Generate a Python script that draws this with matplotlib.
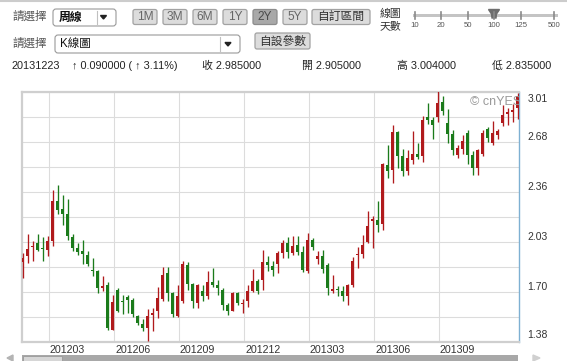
import matplotlib
matplotlib.use('Agg')
import matplotlib.pyplot as plt
from matplotlib.patches import FancyBboxPatch, Rectangle, Polygon
import numpy as np

plt.rcParams['font.family'] = ['Liberation Sans', 'Noto Sans CJK TC', 'DejaVu Sans']

W, H = 567, 361

# weekly K-line, 100 weeks ending 20131223
opens = [1.896, 1.936, 1.994, 2.022, 1.985, 1.979, 2.034, 2.295, 2.247, 2.212,
         2.062, 1.990, 1.968, 1.942, 1.843, 1.841, 1.728, 1.750, 1.455, 1.715,
         1.643, 1.667, 1.652, 1.547, 1.493, 1.467, 1.550, 1.580, 1.656, 1.826,
         1.696, 1.543, 1.641, 1.881, 1.754, 1.630, 1.707, 1.674, 1.765, 1.750,
         1.717, 1.619, 1.580, 1.696, 1.624, 1.641, 1.707, 1.772, 1.782, 1.898,
         1.874, 1.885, 1.957, 2.022, 1.957, 2.007, 1.964, 1.841, 2.044, 1.918,
         1.939, 1.881, 1.707, 1.719, 1.711, 1.674, 1.750, 1.946, 1.952, 2.029,
         2.164, 2.175, 2.147, 2.535, 2.502, 2.748, 2.589, 2.491, 2.567, 2.605,
         2.589, 2.845, 2.829, 2.845, 2.945, 2.807, 2.735, 2.600, 2.639, 2.742,
         2.596, 2.513, 2.605, 2.770, 2.676, 2.727, 2.807, 2.866, 2.879, 2.905]
highs = [1.957, 2.083, 2.038, 2.083, 2.062, 2.066, 2.367, 2.400, 2.334, 2.310,
         2.083, 2.022, 2.040, 1.968, 1.924, 1.848, 1.805, 1.765, 1.684, 1.728,
         1.680, 1.680, 1.663, 1.554, 1.525, 1.593, 1.597, 1.733, 1.864, 1.866,
         1.702, 1.746, 1.903, 1.898, 1.761, 1.754, 1.750, 1.841, 1.859, 1.779,
         1.728, 1.630, 1.702, 1.702, 1.656, 1.746, 1.852, 1.789, 1.977, 1.936,
         1.903, 1.968, 2.044, 2.062, 2.066, 2.066, 2.001, 2.088, 2.055, 1.972,
         1.975, 1.892, 1.815, 1.743, 1.739, 1.754, 1.929, 1.994, 2.073, 2.234,
         2.197, 2.295, 2.546, 2.665, 2.796, 2.757, 2.639, 2.633, 2.753, 2.676,
         2.851, 2.938, 2.845, 3.023, 2.982, 2.901, 2.763, 2.661, 2.727, 2.763,
         2.622, 2.639, 2.763, 2.779, 2.818, 2.770, 2.927, 2.905, 2.932, 3.004]
lows = [1.794, 1.892, 1.907, 1.968, 1.903, 1.936, 2.001, 2.212, 2.142, 2.044,
        1.968, 1.946, 1.887, 1.870, 1.805, 1.696, 1.707, 1.452, 1.452, 1.571,
        1.558, 1.565, 1.537, 1.488, 1.445, 1.380, 1.445, 1.532, 1.641, 1.641,
        1.537, 1.537, 1.630, 1.717, 1.597, 1.597, 1.641, 1.658, 1.737, 1.680,
        1.586, 1.554, 1.576, 1.619, 1.565, 1.602, 1.700, 1.689, 1.717, 1.841,
        1.805, 1.826, 1.924, 1.924, 1.946, 1.946, 1.833, 1.826, 1.979, 1.885,
        1.826, 1.680, 1.696, 1.674, 1.641, 1.615, 1.735, 1.859, 1.924, 2.022,
        1.990, 2.094, 2.109, 2.448, 2.415, 2.513, 2.459, 2.465, 2.539, 2.574,
        2.552, 2.801, 2.705, 2.814, 2.858, 2.676, 2.600, 2.578, 2.605, 2.539,
        2.469, 2.469, 2.589, 2.683, 2.665, 2.705, 2.786, 2.792, 2.814, 2.835]
closes = [1.924, 1.985, 2.005, 1.979, 1.980, 2.034, 2.295, 2.240, 2.212, 2.066,
          1.990, 1.962, 1.951, 1.887, 1.839, 1.728, 1.739, 1.467, 1.635, 1.580,
          1.639, 1.652, 1.558, 1.499, 1.467, 1.547, 1.565, 1.663, 1.815, 1.696,
          1.558, 1.674, 1.885, 1.754, 1.641, 1.746, 1.674, 1.767, 1.750, 1.728,
          1.619, 1.580, 1.696, 1.630, 1.630, 1.707, 1.776, 1.707, 1.898, 1.877,
          1.848, 1.957, 2.022, 1.962, 2.001, 1.964, 1.848, 2.044, 1.994, 1.936,
          1.852, 1.728, 1.724, 1.715, 1.674, 1.750, 1.903, 1.952, 2.011, 2.136,
          2.179, 2.138, 2.539, 2.495, 2.748, 2.589, 2.491, 2.578, 2.605, 2.583,
          2.829, 2.829, 2.792, 2.938, 2.888, 2.735, 2.633, 2.644, 2.692, 2.596,
          2.513, 2.633, 2.742, 2.709, 2.742, 2.753, 2.862, 2.879, 2.894, 2.985]

x_labels = ['201203', '201206', '201209', '201212', '201303', '201306', '201309']
x_label_idx = [5.26, 18.26, 31.26, 44.26, 57.26, 70.26, 83.26]
y_labels = ['1.38', '1.70', '2.03', '2.36', '2.68', '3.01']
y_min, y_max = 1.375, 3.01

info = [('20131223', 12), ('\u2191 0.090000 ( \u2191 3.11%)', 72), ('收 2.985000', 202),
        ('開 2.905000', 302), ('高 3.004000', 397), ('低 2.835000', 492)]
buttons = ['1M', '3M', '6M', '1Y', '2Y', '5Y']
days = ['10', '20', '50', '100', '125', '500']
days_x = [415, 441, 468, 494, 521, 554]

RED = '#b01a1c'
GREEN = '#1b7b1b'


def main():
    fig = plt.figure(figsize=(W / 100, H / 100), dpi=100)

    # ---- page furniture drawn in pixel coords ----
    ui = fig.add_axes([0, 0, 1, 1])
    ui.set_xlim(0, W)
    ui.set_ylim(H, 0)
    ui.axis('off')

    ui.plot([0, W], [1, 1], color='#cccccc', lw=1.5)

    # row 1
    ui.text(12, 17, '請選擇', fontsize=8.3, color='#555555', va='center')
    ui.add_patch(FancyBboxPatch((53, 9), 63, 17, boxstyle='round,pad=0,rounding_size=3',
                                fc='white', ec='#9a9a9a', lw=0.8))
    ui.text(59, 17.5, '周線', fontsize=8.5, color='#111111', va='center', fontweight='bold')
    ui.plot([97, 97], [11, 24], color='#c0c0c0', lw=0.8)
    ui.add_patch(Polygon([(100.5, 15.5), (106.5, 15.5), (103.5, 19)], color='#222222'))

    for i, b in enumerate(buttons):
        x0 = 133 + 30 * i
        pressed = b == '2Y'
        ui.add_patch(FancyBboxPatch((x0, 9.5), 24, 15, boxstyle='round,pad=0,rounding_size=2',
                                    fc='#a8a8a8' if pressed else '#dcdcdc',
                                    ec='#8c8c8c' if pressed else '#a2a2a2', lw=0.9))
        ui.text(x0 + 12, 17.5, b, fontsize=8.6, color='#4a4a4a' if pressed else '#666666',
                ha='center', va='center')
    ui.add_patch(FancyBboxPatch((312, 9.5), 58, 15, boxstyle='round,pad=0,rounding_size=2',
                                fc='#dcdcdc', ec='#a2a2a2', lw=0.9))
    ui.text(341, 17.5, '自訂區間', fontsize=8.5, color='#333333', ha='center', va='center')

    # slider
    ui.text(380, 14, '線圖', fontsize=7.8, color='#333333', va='center')
    ui.text(380, 26, '天數', fontsize=7.8, color='#333333', va='center')
    ui.add_patch(Rectangle((413, 14), 145, 3, fc='#c4c4c4', ec='none'))
    for dx, d in zip(days_x, days):
        ui.plot([dx, dx], [12, 18.5], color='#8a8a8a', lw=1.2)
        ui.text(dx, 25.5, d, fontsize=5.6, color='#555555', ha='center', va='center')
    ui.add_patch(Polygon([(488.5, 9.5), (499.5, 9.5), (496.5, 14), (496, 18), (492, 18),
                          (491.5, 14)], color='#6e6e6e'))

    # row 2
    ui.text(12, 44, '請選擇', fontsize=8.3, color='#555555', va='center')
    ui.add_patch(FancyBboxPatch((55, 35), 185, 18, boxstyle='round,pad=0,rounding_size=3',
                                fc='white', ec='#9a9a9a', lw=0.8))
    ui.text(60, 44.5, 'K線圖', fontsize=8.3, color='#111111', va='center')
    ui.plot([220, 220], [37, 51], color='#c0c0c0', lw=0.8)
    ui.add_patch(Polygon([(225, 42.5), (231, 42.5), (228, 46)], color='#222222'))
    ui.add_patch(FancyBboxPatch((255, 33), 55, 16, boxstyle='round,pad=0,rounding_size=2',
                                fc='#dcdcdc', ec='#a2a2a2', lw=0.9))
    ui.text(282.5, 41.5, '自設參數', fontsize=8.5, color='#333333', ha='center', va='center')

    # row 3
    for s, x0 in info:
        ui.text(x0, 66, s, fontsize=7.8, color='#222222', va='center')

    # scroll bar
    ui.add_patch(Rectangle((22, 355), 496, 7, fc='#a8a8a8', ec='none'))
    ui.add_patch(Rectangle((23, 355.5), 39, 6, fc='#d6d6d6', ec='#9a9a9a', lw=0.6))
    ui.add_patch(Polygon([(13, 355), (13, 361), (7, 358)], color='#b4b4b4'))
    ui.add_patch(Polygon([(533, 355), (533, 361), (540, 358)], color='#d0d0d0'))

    # ---- candle chart ----
    ax = fig.add_axes([21.7 / W, 1 - 342 / H, (518.5 - 21.7) / W, 250 / H])
    x = np.arange(len(opens))
    o = np.array(opens)
    c = np.array(closes)
    up = c >= o
    colors = np.where(up, RED, GREEN)
    body_lo = np.minimum(o, c)
    body_h = np.maximum(np.abs(c - o), 0.007)

    ax.vlines(x, lows, highs, colors=colors, lw=0.95, zorder=3)
    ax.bar(x, body_h, bottom=body_lo, width=0.68, color=colors, lw=0, zorder=4)

    ax.set_xlim(-0.2, 99.16)
    ax.set_ylim(y_min, y_max)
    ax.set_xticks(x_label_idx)
    ax.set_yticks(np.linspace(y_min, y_max, 11))
    ax.grid(color='#dcdcdc', lw=0.8)
    ax.set_axisbelow(True)
    ax.tick_params(length=0, labelbottom=False, labelleft=False)

    for side in ['left', 'top', 'bottom']:
        ax.spines[side].set_color('#cfcfcf')
        ax.spines[side].set_linewidth(1.6)
    ax.spines['right'].set_color('#7eb0d2')
    ax.spines['right'].set_linewidth(1.0)

    for lab, pos in zip(x_labels, x_label_idx):
        ax.annotate(lab, xy=(pos, 0), xycoords=('data', 'axes fraction'),
                    xytext=(1, -3), textcoords='offset pixels',
                    ha='left', va='top', fontsize=7.7, color='#333333',
                    annotation_clip=False)

    y_offsets = [7, 5, 5, 5, 5, -7]
    for lab, val, off in zip(y_labels, np.linspace(y_min, y_max, 6), y_offsets):
        ax.annotate(lab, xy=(1, val), xycoords=('axes fraction', 'data'),
                    xytext=(9, off), textcoords='offset pixels',
                    ha='left', va='center', fontsize=7.5, color='#333333',
                    annotation_clip=False)

    ax.text(89.4, 2.945, '\u00a9 cnYES', fontsize=9, color='#9a9a9a',
            ha='left', va='center', clip_on=True, zorder=5)

    fig.savefig('out.png', dpi=100)
    plt.close(fig)


if __name__ == '__main__':
    main()
